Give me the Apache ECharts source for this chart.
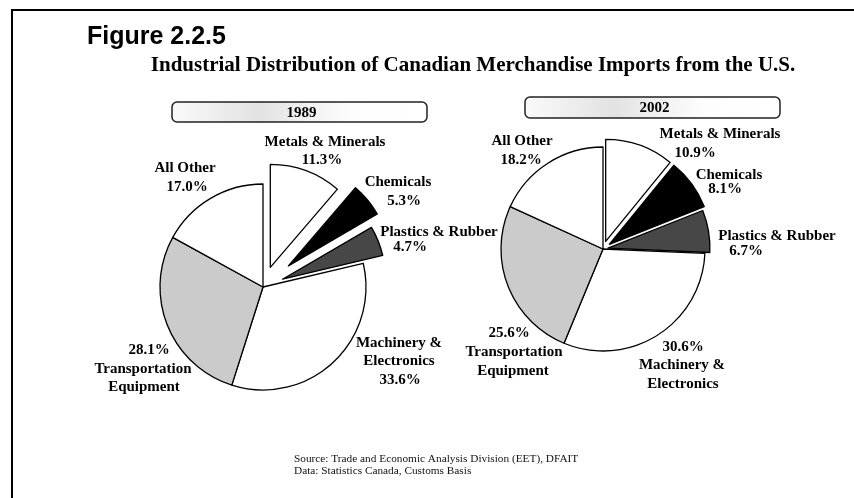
<!DOCTYPE html>
<html>
<head>
<meta charset="utf-8">
<script src="https://cdn.jsdelivr.net/npm/echarts@6/dist/echarts.min.js"></script>
<style>
html,body{margin:0;padding:0;background:#fff;}
#chart{width:854px;height:498px;}
</style>
</head>
<body>
<div id="chart"></div>
<script>
// ---- data ----
const categories = ['Metals & Minerals', 'Chemicals', 'Plastics & Rubber', 'Machinery &\nElectronics', 'Transportation\nEquipment', 'All Other'];
const values1989 = [11.3, 5.3, 4.7, 33.6, 28.1, 17.0];
const values2002 = [10.9, 8.1, 6.7, 30.6, 25.6, 18.2];
const years = ['1989', '2002'];
const figureLabel = 'Figure 2.2.5';
const titleText = 'Industrial Distribution of Canadian Merchandise Imports from the U.S.';
const sourceLines = ['Source: Trade and Economic Analysis Division (EET), DFAIT', 'Data: Statistics Canada, Customs Basis'];

// ---- styling / layout ----
const sliceColors = ['#ffffff', '#000000', '#474747', '#ffffff', '#cbcbcb', '#ffffff'];
const pies = [
  { values: values1989, center: [263, 287], radius: 103, explode: [[0, 21], [1, 33], [2, 21]], box: [172, 102, 255, 20] },
  { values: values2002, center: [603, 249], radius: 102, explode: [[0, 8], [1, 8], [2, 5]], box: [525, 97, 255, 21] }
];
// label positions: name line centers and percentage centre
const labelPos = [
  [
    { name: [[325, 142]], pct: [322, 160] },
    { name: [[398, 182]], pct: [404, 201] },
    { name: [[439, 232]], pct: [410, 247] },
    { name: [[399, 343], [399, 361]], pct: [400, 380] },
    { name: [[143, 369], [144, 387]], pct: [149, 350] },
    { name: [[185, 168]], pct: [187, 187] }
  ],
  [
    { name: [[720, 134]], pct: [695, 153] },
    { name: [[729, 175]], pct: [725, 189] },
    { name: [[777, 236]], pct: [746, 251] },
    { name: [[682, 365], [683, 384]], pct: [683, 347] },
    { name: [[514, 352], [513, 371]], pct: [509, 333] },
    { name: [[522, 141]], pct: [521, 160] }
  ]
];

const chart = echarts.init(document.getElementById('chart'), null, { renderer: 'canvas' });

const border = { borderColor: '#000', borderWidth: 1.3 };
const hidden = { color: 'rgba(0,0,0,0)', borderWidth: 0, borderColor: 'rgba(0,0,0,0)' };

function makeSeries(p, visibleIdx, offset) {
  return {
    type: 'pie',
    center: p.center,
    radius: p.radius,
    startAngle: 90,
    clockwise: true,
    animation: false,
    silent: true,
    avoidLabelOverlap: false,
    label: { show: false },
    labelLine: { show: false },
    emphasis: { disabled: true },
    selectedMode: offset ? 'multiple' : false,
    selectedOffset: offset || 0,
    data: p.values.map((v, i) => {
      const vis = visibleIdx.indexOf(i) >= 0;
      return {
        name: categories[i],
        value: v,
        selected: !!offset && vis,
        itemStyle: vis ? Object.assign({ color: sliceColors[i] }, border) : hidden
      };
    })
  };
}

const series = [];
pies.forEach(p => {
  const exIdx = p.explode.map(e => e[0]);
  const baseIdx = p.values.map((v, i) => i).filter(i => exIdx.indexOf(i) < 0);
  series.push(makeSeries(p, baseIdx, 0));
  p.explode.forEach(e => series.push(makeSeries(p, [e[0]], e[1])));
});

const labelFont = 'bold 15px "Liberation Serif", "Times New Roman", serif';
const graphics = [];
// frame
graphics.push({ type: 'line', shape: { x1: 11, y1: 10, x2: 854, y2: 10 }, style: { stroke: '#000', lineWidth: 2 } });
graphics.push({ type: 'line', shape: { x1: 12, y1: 10, x2: 12, y2: 498 }, style: { stroke: '#000', lineWidth: 2 } });
// year boxes
pies.forEach((p, k) => {
  const b = p.box;
  graphics.push({
    type: 'rect', shape: { x: b[0], y: b[1], width: b[2], height: b[3], r: 5 },
    style: {
      fill: new echarts.graphic.LinearGradient(0, 0, 1, 0, [
        { offset: 0, color: '#fafafa' }, { offset: 0.35, color: '#e2e2e2' },
        { offset: 0.5, color: '#efefef' }, { offset: 0.7, color: '#fdfdfd' }, { offset: 1, color: '#ffffff' }
      ]),
      stroke: '#222', lineWidth: 1.5
    }
  });
  graphics.push({
    type: 'text', x: b[0] + b[2] / 2 + 2, y: b[1] + b[3] / 2 + 1,
    style: { text: years[k], font: labelFont, fill: '#000', textAlign: 'center', textVerticalAlign: 'middle' }
  });
});
// slice labels
pies.forEach((p, k) => {
  p.values.forEach((v, i) => {
    const lp = labelPos[k][i];
    const lines = categories[i].split('\n');
    lines.forEach((ln, j) => {
      graphics.push({
        type: 'text', x: lp.name[j][0], y: lp.name[j][1],
        style: { text: ln, font: labelFont, fill: '#000', textAlign: 'center', textVerticalAlign: 'middle' }
      });
    });
    graphics.push({
      type: 'text', x: lp.pct[0], y: lp.pct[1],
      style: { text: v.toFixed(1) + '%', font: labelFont, fill: '#000', textAlign: 'center', textVerticalAlign: 'middle' }
    });
  });
});
// source
sourceLines.forEach((s, i) => {
  graphics.push({
    type: 'text', x: 294, y: 459 + i * 12,
    style: { text: s, font: '11.3px "Liberation Serif", "Times New Roman", serif', fill: '#111', textAlign: 'left', textVerticalAlign: 'middle' }
  });
});

chart.setOption({
  backgroundColor: '#ffffff',
  animation: false,
  title: [
    { text: figureLabel, left: 82, top: 20, textStyle: { fontFamily: '"Liberation Sans", Arial, sans-serif', fontWeight: 'bold', fontSize: 25, color: '#000' } },
    { text: titleText, left: 468, top: 50, textAlign: 'center', textStyle: { fontFamily: '"Liberation Serif", "Times New Roman", serif', fontWeight: 'bold', fontSize: 21, color: '#000' } }
  ],
  series: series,
  graphic: graphics
});
</script>
</body>
</html>
